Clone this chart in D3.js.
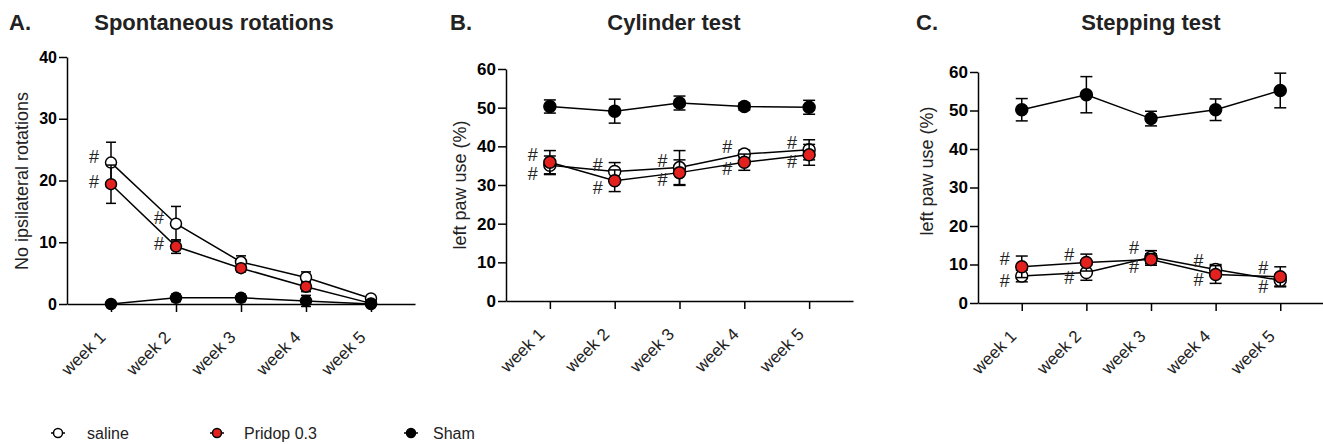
<!DOCTYPE html>
<html>
<head>
<meta charset="utf-8">
<script src="https://cdn.jsdelivr.net/npm/d3@7/dist/d3.min.js"></script>
<style>
  body { margin: 0; background: #fff; }
  svg { display: block; font-family: "Liberation Sans", Arial, sans-serif; }
</style>
</head>
<body>
<svg id="chart" width="1323" height="444"></svg>
<script>
// weeks after lesion
const weeks = ['week 1', 'week 2', 'week 3', 'week 4', 'week 5'];
const seriesNames = ['saline', 'Pridop 0.3', 'Sham'];

// A. spontaneous rotations (mean, sem)
const rotSaline = [22.9, 13.0, 6.8, 4.3, 0.9];
const rotSalineErr = [3.3, 2.8, 1.0, 0.9, 0.3];
const rotPridop = [19.4, 9.3, 5.8, 2.8, 0.1];
const rotPridopErr = [3.1, 1.1, 0.6, 0.8, 0.1];
const rotSham = [0, 1.0, 1.0, 0.5, 0];
const rotShamErr = [0, 0.6, 0.6, 0.9, 0];

// B. cylinder test
const cylSaline = [35.1, 33.5, 34.5, 38.0, 39.1];
const cylSalineErr = [2.4, 2.3, 4.4, 1.0, 2.6];
const cylPridop = [35.9, 31.1, 33.2, 35.9, 37.8];
const cylPridopErr = [3.0, 2.8, 3.3, 2.1, 2.7];
const cylSham = [50.3, 49.1, 51.2, 50.3, 50.1];
const cylShamErr = [1.7, 3.1, 1.8, 0.9, 1.8];

// C. stepping test
const stepSaline = [7.0, 7.9, 11.9, 8.7, 5.9];
const stepSalineErr = [1.5, 2.0, 1.7, 1.3, 1.5];
const stepPridop = [9.4, 10.5, 11.3, 7.4, 6.8];
const stepPridopErr = [2.8, 2.2, 1.5, 2.3, 2.6];
const stepSham = [50.2, 54.1, 47.9, 50.2, 55.2];
const stepShamErr = [2.9, 4.7, 1.9, 2.8, 4.5];

// weeks that carry a # (vs sham)
const rotHashWeeks = [0, 1];
const cylHashWeeks = [0, 1, 2, 3, 4];
const stepHashWeeks = [0, 1, 2, 3, 4];

const ticksA = [0, 10, 20, 30, 40];
const ticksBC = [0, 10, 20, 30, 40, 50, 60];

const RED = '#e3211f';
const fills = ['#fff', RED, '#000'];

const panels = [
  { letter: 'A.', title: 'Spontaneous rotations', ylabel: 'No ipsilateral rotations',
    ticks: ticksA, x0: 67, x1: 415, yTop: 57, yBot: 304, letterX: 9, titleX: 214,
    ylabelX: 22, ylabelY: 181, tickFont: 16, r: 5.5, cap: 5,
    hashWeeks: rotHashWeeks, hashUp: -6, hashDown: -3,
    series: [[rotSaline, rotSalineErr], [rotPridop, rotPridopErr], [rotSham, rotShamErr]] },
  { letter: 'B.', title: 'Cylinder test', ylabel: 'left paw use (%)',
    ticks: ticksBC, x0: 506, x1: 853, yTop: 69, yBot: 301, letterX: 450, titleX: 674,
    ylabelX: 460, ylabelY: 185, tickFont: 17, r: 6, cap: 6,
    hashWeeks: cylHashWeeks, hashUp: -7, hashDown: 7,
    series: [[cylSaline, cylSalineErr], [cylPridop, cylPridopErr], [cylSham, cylShamErr]] },
  { letter: 'C.', title: 'Stepping test', ylabel: 'left paw use (%)',
    ticks: ticksBC, x0: 978, x1: 1324, yTop: 72, yBot: 303, letterX: 916, titleX: 1151,
    ylabelX: 927, ylabelY: 171, tickFont: 17, r: 6, cap: 6,
    hashWeeks: stepHashWeeks, hashUp: -8, hashDown: 5,
    series: [[stepSaline, stepSalineErr], [stepPridop, stepPridopErr], [stepSham, stepShamErr]] }
];

const svg = d3.select('#chart');

function drawPanel(p) {
  const g = svg.append('g');

  const x = d3.scalePoint().domain(weeks).range([p.x0, p.x1]).padding(0.677);
  const y = d3.scaleLinear().domain([0, d3.max(p.ticks)]).range([p.yBot, p.yTop]);

  // headings
  g.append('text').attr('x', p.letterX).attr('y', 30)
    .attr('font-size', 22).attr('font-weight', 'bold').attr('fill', '#222')
    .text(p.letter);
  g.append('text').attr('x', p.titleX).attr('y', 30).attr('text-anchor', 'middle')
    .attr('font-size', 22).attr('font-weight', 'bold').attr('fill', '#222')
    .text(p.title);

  // y axis
  const yAxis = g.append('g').attr('transform', `translate(${p.x0},0)`)
    .call(d3.axisLeft(y).tickValues(p.ticks).tickSize(8).tickPadding(2).tickSizeOuter(0));
  yAxis.selectAll('text').attr('font-size', p.tickFont).attr('font-weight', 'bold')
    .attr('fill', '#000').attr('font-family', '"Liberation Sans", Arial, sans-serif');
  yAxis.selectAll('line, path').attr('stroke', '#000').attr('stroke-width', 1.5);

  // x axis
  const xAxis = g.append('g').attr('transform', `translate(0,${p.yBot})`)
    .call(d3.axisBottom(x).tickSize(8).tickSizeOuter(0));
  xAxis.selectAll('line, path').attr('stroke', '#000').attr('stroke-width', 1.5);
  xAxis.selectAll('text')
    .attr('font-size', 17).attr('fill', '#222')
    .attr('font-family', '"Liberation Sans", Arial, sans-serif')
    .attr('text-anchor', 'end')
    .attr('y', 0).attr('dy', '0.35em')
    .attr('transform', 'translate(-9,30) rotate(-45)');

  // y label
  g.append('text')
    .attr('transform', `translate(${p.ylabelX},${p.ylabelY}) rotate(-90)`)
    .attr('text-anchor', 'middle').attr('dy', '0.35em')
    .attr('font-size', 18).attr('fill', '#222')
    .text(p.ylabel);

  // series: lines, error bars, markers
  p.series.forEach(([vals, errs], si) => {
    const pts = weeks.map((w, i) => ({ w, v: vals[i], e: errs[i] }));
    const sg = g.append('g');
    sg.append('path').datum(pts)
      .attr('fill', 'none').attr('stroke', '#000').attr('stroke-width', 1.5)
      .attr('d', d3.line().x(d => x(d.w)).y(d => y(d.v)));
    const eb = sg.selectAll('.eb').data(pts).join('g').attr('class', 'eb')
      .attr('stroke', '#000').attr('stroke-width', 1.5);
    eb.append('line').attr('x1', d => x(d.w)).attr('x2', d => x(d.w))
      .attr('y1', d => y(d.v - d.e)).attr('y2', d => y(d.v + d.e));
    eb.append('line').attr('x1', d => x(d.w) - p.cap).attr('x2', d => x(d.w) + p.cap)
      .attr('y1', d => y(d.v + d.e)).attr('y2', d => y(d.v + d.e));
    eb.append('line').attr('x1', d => x(d.w) - p.cap).attr('x2', d => x(d.w) + p.cap)
      .attr('y1', d => y(d.v - d.e)).attr('y2', d => y(d.v - d.e));
    sg.selectAll('circle').data(pts).join('circle')
      .attr('cx', d => x(d.w)).attr('cy', d => y(d.v)).attr('r', p.r)
      .attr('fill', fills[si]).attr('stroke', '#000').attr('stroke-width', 1.5);
  });

  // # marks, one above and one below the saline / Pridop pair
  const [sal, pri] = [p.series[0][0], p.series[1][0]];
  const hashes = [];
  p.hashWeeks.forEach(i => {
    let up = y(Math.max(sal[i], pri[i])) + p.hashUp;
    let down = y(Math.min(sal[i], pri[i])) + p.hashDown;
    if (down - up < 19) {
      const mid = (up + down) / 2;
      up = mid - 9.5; down = mid + 9.5;
    }
    hashes.push({ w: weeks[i], yy: up });
    hashes.push({ w: weeks[i], yy: down });
  });
  g.selectAll('.hash').data(hashes).join('text').attr('class', 'hash')
    .attr('x', d => x(d.w) - 17).attr('y', d => d.yy).attr('dy', '0.35em')
    .attr('text-anchor', 'middle').attr('font-size', 18).attr('fill', '#222')
    .text('#');
}

panels.forEach(drawPanel);

// legend
const legendX = [58, 217, 411];
const legendTextX = [87, 244, 433];
const legendY = 433;
const lg = svg.append('g');
seriesNames.forEach((name, i) => {
  lg.append('line').attr('x1', legendX[i] - 7).attr('x2', legendX[i] + 7)
    .attr('y1', legendY).attr('y2', legendY).attr('stroke', '#000').attr('stroke-width', 1.5);
  lg.append('circle').attr('cx', legendX[i]).attr('cy', legendY).attr('r', 4.5)
    .attr('fill', fills[i]).attr('stroke', '#000').attr('stroke-width', 1.5);
  lg.append('text').attr('x', legendTextX[i]).attr('y', legendY).attr('dy', '0.35em')
    .attr('font-size', 16).attr('fill', '#222').text(name);
});
</script>
</body>
</html>
